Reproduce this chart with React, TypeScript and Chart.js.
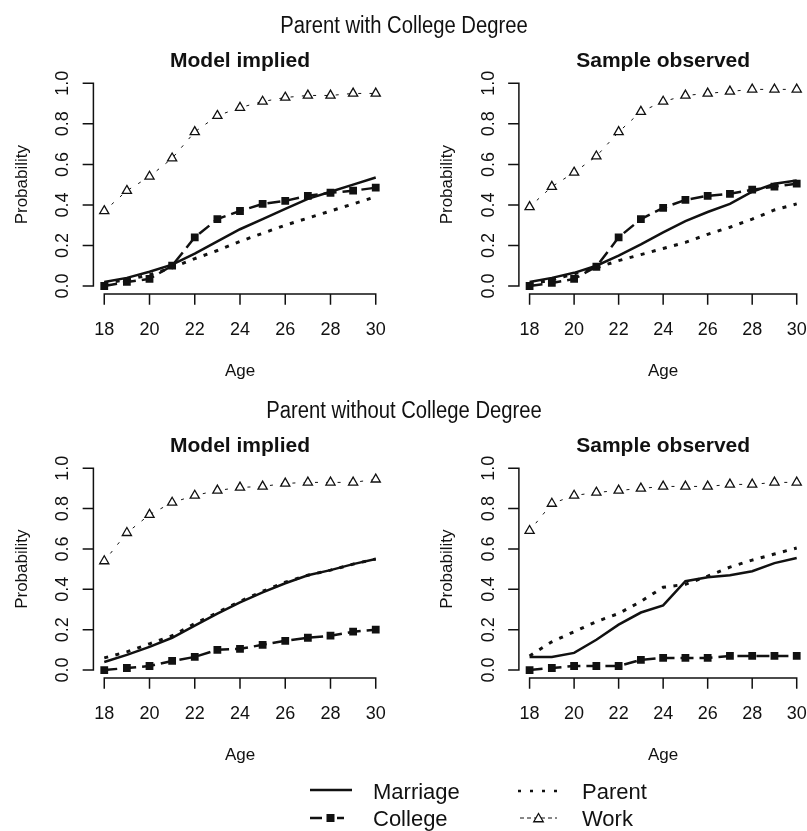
import React, { useEffect, useRef } from "react";
import { Chart, registerables } from "chart.js";

Chart.register(...registerables);

// ---------- data ----------
const ages = [18, 19, 20, 21, 22, 23, 24, 25, 26, 27, 28, 29, 30];
const xTicks = [18, 20, 22, 24, 26, 28, 30];
const yTicks = [0, 0.2, 0.4, 0.6, 0.8, 1.0];
const yTickLabels = ["0.0", "0.2", "0.4", "0.6", "0.8", "1.0"];
const seriesNames = ["Marriage", "College", "Parent", "Work"];
const sectionTitles = ["Parent with College Degree", "Parent without College Degree"];
const panelTitles = ["Model implied", "Sample observed"];
const xAxisTitle = "Age";
const yAxisTitle = "Probability";

// Parent with college degree — model implied
const cmMarriage = [0.02, 0.04, 0.07, 0.105, 0.16, 0.22, 0.28, 0.33, 0.38, 0.43, 0.465, 0.5, 0.535];
const cmCollege = [0.0, 0.02, 0.035, 0.1, 0.24, 0.33, 0.37, 0.405, 0.42, 0.445, 0.46, 0.47, 0.485];
const cmParent = [0.015, 0.03, 0.055, 0.09, 0.135, 0.175, 0.22, 0.26, 0.3, 0.335, 0.37, 0.405, 0.44];
const cmWork = [0.37, 0.47, 0.54, 0.63, 0.76, 0.84, 0.88, 0.91, 0.93, 0.94, 0.94, 0.95, 0.95];

// Parent with college degree — sample observed
const csMarriage = [0.02, 0.04, 0.065, 0.1, 0.15, 0.205, 0.265, 0.32, 0.365, 0.405, 0.465, 0.505, 0.52];
const csCollege = [0.0, 0.015, 0.035, 0.095, 0.24, 0.33, 0.385, 0.425, 0.445, 0.455, 0.475, 0.49, 0.505];
const csParent = [0.01, 0.03, 0.06, 0.09, 0.125, 0.155, 0.185, 0.215, 0.255, 0.29, 0.33, 0.375, 0.405];
const csWork = [0.39, 0.49, 0.56, 0.64, 0.76, 0.86, 0.91, 0.94, 0.95, 0.96, 0.97, 0.97, 0.97];

// Parent without college degree — model implied
const nmMarriage = [0.04, 0.075, 0.115, 0.16, 0.22, 0.28, 0.335, 0.385, 0.43, 0.47, 0.495, 0.525, 0.55];
const nmCollege = [0.0, 0.01, 0.02, 0.045, 0.065, 0.1, 0.105, 0.125, 0.145, 0.16, 0.17, 0.19, 0.2];
const nmParent = [0.06, 0.09, 0.13, 0.17, 0.23, 0.285, 0.34, 0.39, 0.435, 0.47, 0.495, 0.525, 0.55];
const nmWork = [0.54, 0.68, 0.77, 0.83, 0.865, 0.89, 0.905, 0.91, 0.925, 0.93, 0.93, 0.93, 0.945];

// Parent without college degree — sample observed
const nsMarriage = [0.065, 0.065, 0.085, 0.15, 0.225, 0.285, 0.32, 0.44, 0.46, 0.47, 0.49, 0.53, 0.555];
const nsCollege = [0.0, 0.01, 0.02, 0.02, 0.02, 0.05, 0.06, 0.06, 0.06, 0.07, 0.07, 0.07, 0.07];
const nsParent = [0.07, 0.14, 0.19, 0.24, 0.28, 0.34, 0.41, 0.425, 0.465, 0.51, 0.545, 0.575, 0.605];
const nsWork = [0.69, 0.825, 0.865, 0.88, 0.89, 0.9, 0.91, 0.91, 0.91, 0.92, 0.92, 0.93, 0.93];

// ---------- styling / layout ----------
const INK = "#111";
const FONT = '"Liberation Sans", Arial, Helvetica, sans-serif';
const TICK = 10;

type Panel = {
  title: string;
  marriage: number[];
  college: number[];
  parent: number[];
  work: number[];
  left: number;
  top: number;
  width: number;
  height: number;
  pad: { left: number; right: number; top: number; bottom: number };
};

const panels: Panel[] = [
  {
    title: panelTitles[0], marriage: cmMarriage, college: cmCollege, parent: cmParent, work: cmWork,
    left: 0, top: 40, width: 404, height: 350,
    pad: { left: 93.4, right: 17.4, top: 35.2, bottom: 95.9 },
  },
  {
    title: panelTitles[1], marriage: csMarriage, college: csCollege, parent: csParent, work: csWork,
    left: 404, top: 40, width: 410, height: 350,
    pad: { left: 114.9, right: 3.2, top: 35.2, bottom: 95.9 },
  },
  {
    title: panelTitles[0], marriage: nmMarriage, college: nmCollege, parent: nmParent, work: nmWork,
    left: 0, top: 425, width: 404, height: 360,
    pad: { left: 93.4, right: 17.4, top: 35.2, bottom: 106.9 },
  },
  {
    title: panelTitles[1], marriage: nsMarriage, college: nsCollege, parent: nsParent, work: nsWork,
    left: 404, top: 425, width: 410, height: 360,
    pad: { left: 114.9, right: 3.2, top: 35.2, bottom: 106.9 },
  },
];

function textScaled(
  ctx: CanvasRenderingContext2D, text: string, x: number, y: number,
  align: CanvasTextAlign, sx = 1, rotate = 0
) {
  ctx.save();
  ctx.translate(x, y);
  if (rotate) ctx.rotate(rotate);
  ctx.scale(sx, 1);
  ctx.textAlign = align;
  ctx.textBaseline = "alphabetic";
  ctx.fillText(text, 0, 0);
  ctx.restore();
}

function makeAxesPlugin(title: string) {
  return {
    id: "rAxes",
    afterDraw(chart: any) {
      const ctx: CanvasRenderingContext2D = chart.ctx;
      const xs = chart.scales.x;
      const ys = chart.scales.y;
      const a = chart.chartArea;
      ctx.save();
      ctx.strokeStyle = INK;
      ctx.fillStyle = INK;
      ctx.lineWidth = 1.5;
      ctx.lineCap = "square";
      ctx.setLineDash([]);
      ctx.beginPath();
      const xA = xs.getPixelForValue(xTicks[0]);
      const xB = xs.getPixelForValue(xTicks[xTicks.length - 1]);
      ctx.moveTo(xA, a.bottom);
      ctx.lineTo(xB, a.bottom);
      xTicks.forEach((t) => {
        const px = xs.getPixelForValue(t);
        ctx.moveTo(px, a.bottom);
        ctx.lineTo(px, a.bottom + TICK);
      });
      const yA = ys.getPixelForValue(yTicks[0]);
      const yB = ys.getPixelForValue(yTicks[yTicks.length - 1]);
      ctx.moveTo(a.left, yA);
      ctx.lineTo(a.left, yB);
      yTicks.forEach((t) => {
        const py = ys.getPixelForValue(t);
        ctx.moveTo(a.left, py);
        ctx.lineTo(a.left - TICK, py);
      });
      ctx.stroke();

      // tick labels
      ctx.font = `18px ${FONT}`;
      xTicks.forEach((t) => {
        textScaled(ctx, String(t), xs.getPixelForValue(t), a.bottom + 41, "center");
      });
      yTicks.forEach((t, i) => {
        textScaled(ctx, yTickLabels[i], a.left - 25, ys.getPixelForValue(t), "center", 1, -Math.PI / 2);
      });

      // axis titles
      const cx = (a.left + a.right) / 2;
      const cy = (a.top + a.bottom) / 2;
      ctx.font = `17px ${FONT}`;
      textScaled(ctx, xAxisTitle, cx, a.bottom + 82, "center");
      textScaled(ctx, yAxisTitle, a.left - 66.5, cy, "center", 1, -Math.PI / 2);

      // panel title
      ctx.font = `bold 21px ${FONT}`;
      textScaled(ctx, title, cx, a.top - 8.7, "center");
      ctx.restore();
    },
  };
}

function pts(vals: number[]) {
  return ages.map((a, i) => ({ x: a, y: vals[i] }));
}

function PanelChart({ p }: { p: Panel }) {
  const ref = useRef<HTMLCanvasElement | null>(null);
  useEffect(() => {
    if (!ref.current) return;
    const chart = new Chart(ref.current, {
      type: "line",
      data: {
        datasets: [
          {
            label: seriesNames[3],
            data: pts(p.work),
            borderColor: INK,
            borderWidth: 1,
            borderDash: [3, 8.3],
            borderDashOffset: 1.5,
            pointStyle: "triangle",
            pointRadius: 5.3,
            pointBorderWidth: 1.3,
            pointBorderColor: INK,
            pointBackgroundColor: "#fff",
            tension: 0,
            fill: false,
          },
          {
            label: seriesNames[2],
            data: pts(p.parent),
            borderColor: INK,
            borderWidth: 3,
            borderDash: [4, 7.5],
            pointRadius: 0,
            tension: 0,
            fill: false,
          },
          {
            label: seriesNames[1],
            data: pts(p.college),
            borderColor: INK,
            borderWidth: 2.5,
            borderDash: [13, 6],
            pointStyle: "rect",
            pointRadius: 5.5,
            pointBorderWidth: 0,
            pointBackgroundColor: INK,
            pointBorderColor: INK,
            tension: 0,
            fill: false,
          },
          {
            label: seriesNames[0],
            data: pts(p.marriage),
            borderColor: INK,
            borderWidth: 2.5,
            pointRadius: 0,
            tension: 0,
            fill: false,
          },
        ],
      },
      options: {
        animation: false,
        responsive: false,
        maintainAspectRatio: false,
        devicePixelRatio: 1,
        events: [],
        layout: { padding: p.pad },
        scales: {
          x: { type: "linear", min: 17.52, max: 30.48, display: false },
          y: { type: "linear", min: -0.04, max: 1.04, display: false },
        },
        plugins: {
          legend: { display: false },
          tooltip: { enabled: false },
          title: { display: false },
        },
      },
      plugins: [makeAxesPlugin(p.title)],
    } as any);
    return () => chart.destroy();
  }, [p]);
  return (
    <canvas
      ref={ref}
      width={p.width}
      height={p.height}
      style={{ position: "absolute", left: p.left, top: p.top, width: p.width, height: p.height }}
    />
  );
}

function Overlay() {
  const ref = useRef<HTMLCanvasElement | null>(null);
  useEffect(() => {
    const c = ref.current;
    if (!c) return;
    const ctx = c.getContext("2d");
    if (!ctx) return;
    ctx.clearRect(0, 0, c.width, c.height);
    ctx.fillStyle = INK;
    ctx.strokeStyle = INK;

    // section titles
    ctx.font = `23px ${FONT}`;
    textScaled(ctx, sectionTitles[0], 404, 33, "center", 0.88);
    textScaled(ctx, sectionTitles[1], 404, 418, "center", 0.88);

    // legend
    ctx.lineCap = "butt";
    // Marriage
    ctx.lineWidth = 2.5;
    ctx.setLineDash([]);
    ctx.beginPath();
    ctx.moveTo(310, 790);
    ctx.lineTo(352, 790);
    ctx.stroke();
    // College
    ctx.beginPath();
    ctx.moveTo(310, 818);
    ctx.lineTo(322, 818);
    ctx.moveTo(337, 818);
    ctx.lineTo(344, 818);
    ctx.stroke();
    ctx.fillRect(326.5, 814, 8, 8);
    // Parent
    ctx.lineWidth = 2.5;
    ctx.setLineDash([3, 9]);
    ctx.beginPath();
    ctx.moveTo(518, 791);
    ctx.lineTo(557, 791);
    ctx.stroke();
    // Work
    ctx.lineWidth = 1;
    ctx.setLineDash([4, 3]);
    ctx.beginPath();
    ctx.moveTo(520, 818);
    ctx.lineTo(557, 818);
    ctx.stroke();
    ctx.setLineDash([]);
    const tx = 538.5, ty = 819, r = 5.5;
    ctx.beginPath();
    ctx.moveTo(tx, ty - r);
    ctx.lineTo(tx + r * 0.866, ty + r / 2);
    ctx.lineTo(tx - r * 0.866, ty + r / 2);
    ctx.closePath();
    ctx.fillStyle = "#fff";
    ctx.fill();
    ctx.lineWidth = 1.3;
    ctx.stroke();
    ctx.fillStyle = INK;

    ctx.font = `22px ${FONT}`;
    textScaled(ctx, seriesNames[0], 373, 799, "left");
    textScaled(ctx, seriesNames[1], 373, 826, "left");
    textScaled(ctx, seriesNames[2], 582, 799, "left");
    textScaled(ctx, seriesNames[3], 582, 826, "left");
  }, []);
  return (
    <canvas
      ref={ref}
      width={807}
      height={831}
      style={{ position: "absolute", left: 0, top: 0, width: 807, height: 831 }}
    />
  );
}

export default function App() {
  return (
    <div
      style={{
        position: "fixed",
        left: 0,
        top: 0,
        width: 807,
        height: 831,
        overflow: "hidden",
        background: "#fff",
      }}
    >
      <Overlay />
      {panels.map((p, i) => (
        <PanelChart key={i} p={p} />
      ))}
    </div>
  );
}
